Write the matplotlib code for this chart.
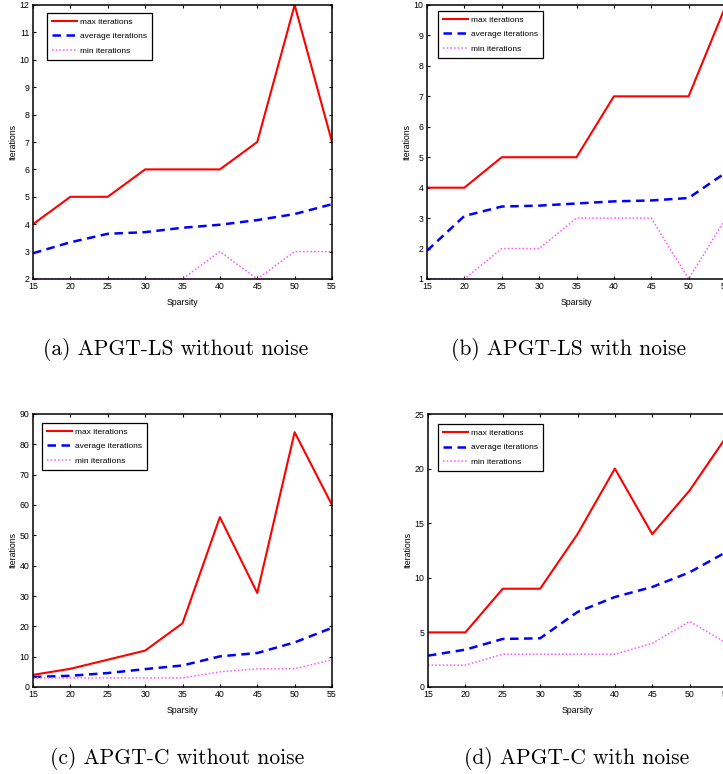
import numpy as np
import matplotlib
matplotlib.use("Agg")
import matplotlib.pyplot as plt

plt.rcParams["font.family"] = ["Liberation Sans", "DejaVu Sans"]

sparsity = [15, 20, 25, 30, 35, 40, 45, 50, 55]

# (a) APGT-LS without noise
ls_clean_max = [4, 5, 5, 6, 6, 6, 7, 12, 7]
ls_clean_avg = [2.94, 3.34, 3.65, 3.71, 3.87, 3.98, 4.15, 4.37, 4.73]
ls_clean_min = [2, 2, 2, 2, 2, 3, 2, 3, 3]

# (b) APGT-LS with noise
ls_noise_max = [4, 4, 5, 5, 5, 7, 7, 7, 10]
ls_noise_avg = [1.93, 3.07, 3.38, 3.41, 3.48, 3.55, 3.58, 3.66, 4.5]
ls_noise_min = [1, 1, 2, 2, 3, 3, 3, 1, 3]

# (c) APGT-C without noise
c_clean_max = [4, 6, 9, 12, 21, 56, 31, 84, 60]
c_clean_avg = [3.3, 3.7, 4.6, 5.9, 7.1, 10.1, 11.2, 14.7, 19.5]
c_clean_min = [3, 3, 3, 3, 3, 5, 6, 6, 9]

# (d) APGT-C with noise
c_noise_max = [5, 5, 9, 9, 14, 20, 14, 18, 23]
c_noise_avg = [2.87, 3.42, 4.4, 4.46, 6.87, 8.24, 9.16, 10.5, 12.4]
c_noise_min = [2, 2, 3, 3, 3, 3, 4, 6, 4]

captions = ["(a) APGT-LS without noise", "(b) APGT-LS with noise",
            "(c) APGT-C without noise", "(d) APGT-C with noise"]

W, H = 723, 774
fig = plt.figure(figsize=(W / 100, H / 100), dpi=100)


def px_axes(left, top, right, bottom):
    return fig.add_axes([left / W, 1 - bottom / H, (right - left) / W, (bottom - top) / H])


panels = [
    # axes box (px), data, ylim, yticks, legend anchor, caption pos
    ((33, 5, 332, 279), (ls_clean_max, ls_clean_avg, ls_clean_min), (2, 12), np.arange(2, 13, 1),
     (0.047, 0.971), (176, 349)),
    ((427, 5, 726, 279), (ls_noise_max, ls_noise_avg, ls_noise_min), (1, 10), np.arange(1, 11, 1),
     (0.037, 0.978), (569, 349)),
    ((33, 414, 332, 687), (c_clean_max, c_clean_avg, c_clean_min), (0, 90), np.arange(0, 91, 10),
     (0.030, 0.967), (177, 758)),
    ((428, 414, 727, 687), (c_noise_max, c_noise_avg, c_noise_min), (0, 25), np.arange(0, 26, 5),
     (0.033, 0.963), (577, 758)),
]

for (box, (mx, av, mn), ylim, yticks, leg_xy, cap_xy), cap in zip(panels, captions):
    ax = px_axes(*box)
    ax.plot(sparsity, mx, color="#ff0000", lw=1.5, label="max iterations")
    ax.plot(sparsity, av, color="#0000ff", lw=1.8, ls=(0, (3.4, 2.2)), label="average iterations")
    ax.plot(sparsity, mn, color="#ff55ff", lw=1.1, ls=(0, (1, 1.4)), label="min iterations")
    ax.set_xlim(15, 55)
    ax.set_ylim(*ylim)
    ax.set_xticks(sparsity)
    ax.set_yticks(yticks)
    ax.tick_params(direction="in", top=True, right=True, length=2.5, width=0.8,
                   labelsize=6.3, pad=2.5)
    for sp in ax.spines.values():
        sp.set_linewidth(1.1)
    ax.set_xlabel("Sparsity", fontsize=6.3, labelpad=5)
    ax.set_ylabel("Iterations", fontsize=6.3, labelpad=2)
    leg = ax.legend(loc="upper left", bbox_to_anchor=leg_xy, borderaxespad=0,
                    fontsize=6, fancybox=False, framealpha=1, edgecolor="black",
                    handlelength=3.0, handletextpad=0.4, labelspacing=0.8,
                    borderpad=0.6)
    leg.get_frame().set_linewidth(0.9)
    fig.text(cap_xy[0] / W, 1 - cap_xy[1] / H, cap, fontsize=15.5,
             family="cmr10", ha="center", va="center")

fig.savefig("out.png", dpi=100)
